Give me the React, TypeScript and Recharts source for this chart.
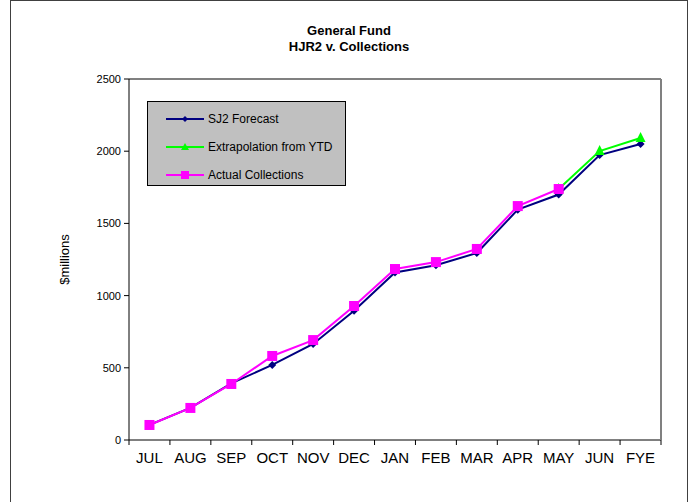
import React from 'react';
import { LineChart, Line, XAxis, YAxis, ReferenceLine } from 'recharts';

const months = ['JUL', 'AUG', 'SEP', 'OCT', 'NOV', 'DEC', 'JAN', 'FEB', 'MAR', 'APR', 'MAY', 'JUN', 'FYE'];
const sj2Forecast = [105, 222, 392, 520, 665, 895, 1160, 1210, 1295, 1595, 1700, 1973, 2050];
const extrapolation = [null, null, null, null, null, null, null, null, null, null, 1738, 2001, 2091];
const actualCollections = [104, 222, 388, 582, 692, 928, 1184, 1232, 1323, 1620, 1738, null, null];
const yTicks = [0, 500, 1000, 1500, 2000, 2500];

const NAVY = '#000080';
const GREEN = '#00ff00';
const MAGENTA = '#ff00ff';
const FONT = '"Liberation Sans", Arial, sans-serif';

const data = months.map((m, i) => ({
  idx: i,
  month: m,
  sj2: sj2Forecast[i],
  extrap: extrapolation[i],
  actual: actualCollections[i],
}));

// tick marks sit between the categories, labels in the middle
const boundaryTicks = months.map((_, i) => i - 0.5).concat(months.length - 0.5);

function Diamond(props: any) {
  const { cx, cy, index } = props;
  if (cx == null || cy == null) return <g key={`d-${index}`} />;
  return (
    <path
      key={`d-${index}`}
      d={`M${cx},${cy - 4}L${cx + 4},${cy}L${cx},${cy + 4}L${cx - 4},${cy}Z`}
      fill={NAVY}
    />
  );
}

function Triangle(props: any) {
  const { cx, cy, index } = props;
  if (cx == null || cy == null) return <g key={`t-${index}`} />;
  return (
    <path
      key={`t-${index}`}
      d={`M${cx},${cy - 6}L${cx + 5},${cy + 4}L${cx - 5},${cy + 4}Z`}
      fill={GREEN}
    />
  );
}

function Square(props: any) {
  const { cx, cy, index } = props;
  if (cx == null || cy == null) return <g key={`s-${index}`} />;
  return <rect key={`s-${index}`} x={cx - 5} y={cy - 5} width={10} height={10} fill={MAGENTA} />;
}

const legendItems = [
  { name: 'SJ2 Forecast', color: NAVY, marker: 'diamond' },
  { name: 'Extrapolation from YTD', color: GREEN, marker: 'triangle' },
  { name: 'Actual Collections', color: MAGENTA, marker: 'square' },
];

function LegendIcon({ color, marker }: { color: string; marker: string }) {
  return (
    <svg width={38} height={10} style={{ display: 'block' }}>
      <line x1={0} y1={5} x2={38} y2={5} stroke={color} strokeWidth={2} />
      {marker === 'diamond' && <path d="M19,2L22,5L19,8L16,5Z" fill={color} />}
      {marker === 'triangle' && <path d="M19,1L23,8L15,8Z" fill={color} />}
      {marker === 'square' && <rect x={15} y={1} width={8} height={8} fill={color} />}
    </svg>
  );
}

export default function App() {
  return (
    <div style={{ position: 'relative', width: 690, height: 502, background: '#fff', overflow: 'hidden', fontFamily: FONT }}>
      <style>{'body{margin:0}'}</style>
      <div
        style={{
          position: 'absolute',
          left: 10,
          top: 0,
          width: 678,
          height: 530,
          border: '1px solid #404040',
          boxSizing: 'border-box',
        }}
      />
      <div
        style={{
          position: 'absolute',
          left: 10,
          width: 678,
          top: 23,
          textAlign: 'center',
          fontSize: 13,
          fontWeight: 'bold',
          lineHeight: '16px',
        }}
      >
        <div>General Fund</div>
        <div>HJR2 v. Collections</div>
      </div>
      <div style={{ position: 'absolute', left: 0, top: 0 }}>
        <LineChart width={690} height={502} data={data} margin={{ top: 79, right: 28, left: 64, bottom: 32 }}>
          <XAxis
            xAxisId="b"
            dataKey="idx"
            type="number"
            domain={[-0.5, months.length - 0.5]}
            ticks={boundaryTicks}
            interval={0}
            tick={() => <g />}
            tickSize={5}
            tickLine={{ stroke: '#000', strokeWidth: 1 }}
            axisLine={{ stroke: '#000' }}
            height={5}
            allowDataOverflow
          />
          <XAxis
            xAxisId="lab"
            dataKey="idx"
            type="number"
            domain={[-0.5, months.length - 0.5]}
            ticks={months.map((_, i) => i)}
            tickFormatter={(v: number) => months[v]}
            interval={0}
            axisLine={false}
            tickLine={false}
            tick={{ fill: '#000', fontSize: 15, fontFamily: FONT }}
            tickMargin={1}
            height={25}
            allowDataOverflow
          />
          <YAxis
            yAxisId="l"
            domain={[0, 2500]}
            ticks={yTicks}
            interval={0}
            tickSize={5}
            tickLine={{ stroke: '#000' }}
            axisLine={{ stroke: '#000' }}
            tick={{ fill: '#000', fontSize: 11, fontFamily: FONT }}
            tickMargin={3}
            width={65}
            label={{
              value: '$millions',
              angle: -90,
              position: 'insideLeft',
              offset: 0,
              style: { fill: '#000', fontSize: 13, fontFamily: FONT, textAnchor: 'middle' },
            }}
          />
          <YAxis
            yAxisId="r"
            orientation="right"
            domain={[0, 2500]}
            width={1}
            tick={false}
            tickLine={false}
            axisLine={{ stroke: '#808080', strokeWidth: 2 }}
          />
          <ReferenceLine yAxisId="l" xAxisId="lab" y={2500} stroke="#808080" strokeWidth={2} />
          <Line
            xAxisId="lab"
            yAxisId="l"
            dataKey="sj2"
            stroke={NAVY}
            strokeWidth={2}
            dot={Diamond}
            activeDot={false}
            isAnimationActive={false}
          />
          <Line
            xAxisId="lab"
            yAxisId="l"
            dataKey="extrap"
            stroke={GREEN}
            strokeWidth={2}
            dot={Triangle}
            activeDot={false}
            isAnimationActive={false}
          />
          <Line
            xAxisId="lab"
            yAxisId="l"
            dataKey="actual"
            stroke={MAGENTA}
            strokeWidth={2}
            dot={Square}
            activeDot={false}
            isAnimationActive={false}
          />
        </LineChart>
      </div>
      <div
        style={{
          position: 'absolute',
          left: 147,
          top: 101,
          width: 199,
          height: 85,
          boxSizing: 'border-box',
          background: '#c0c0c0',
          border: '1px solid #000',
          paddingTop: 3,
        }}
      >
        {legendItems.map((it) => (
          <div key={it.name} style={{ display: 'flex', alignItems: 'center', height: 28, marginLeft: 18 }}>
            <LegendIcon color={it.color} marker={it.marker} />
            <span style={{ fontSize: 12, marginLeft: 4, color: '#000' }}>{it.name}</span>
          </div>
        ))}
      </div>
    </div>
  );
}
